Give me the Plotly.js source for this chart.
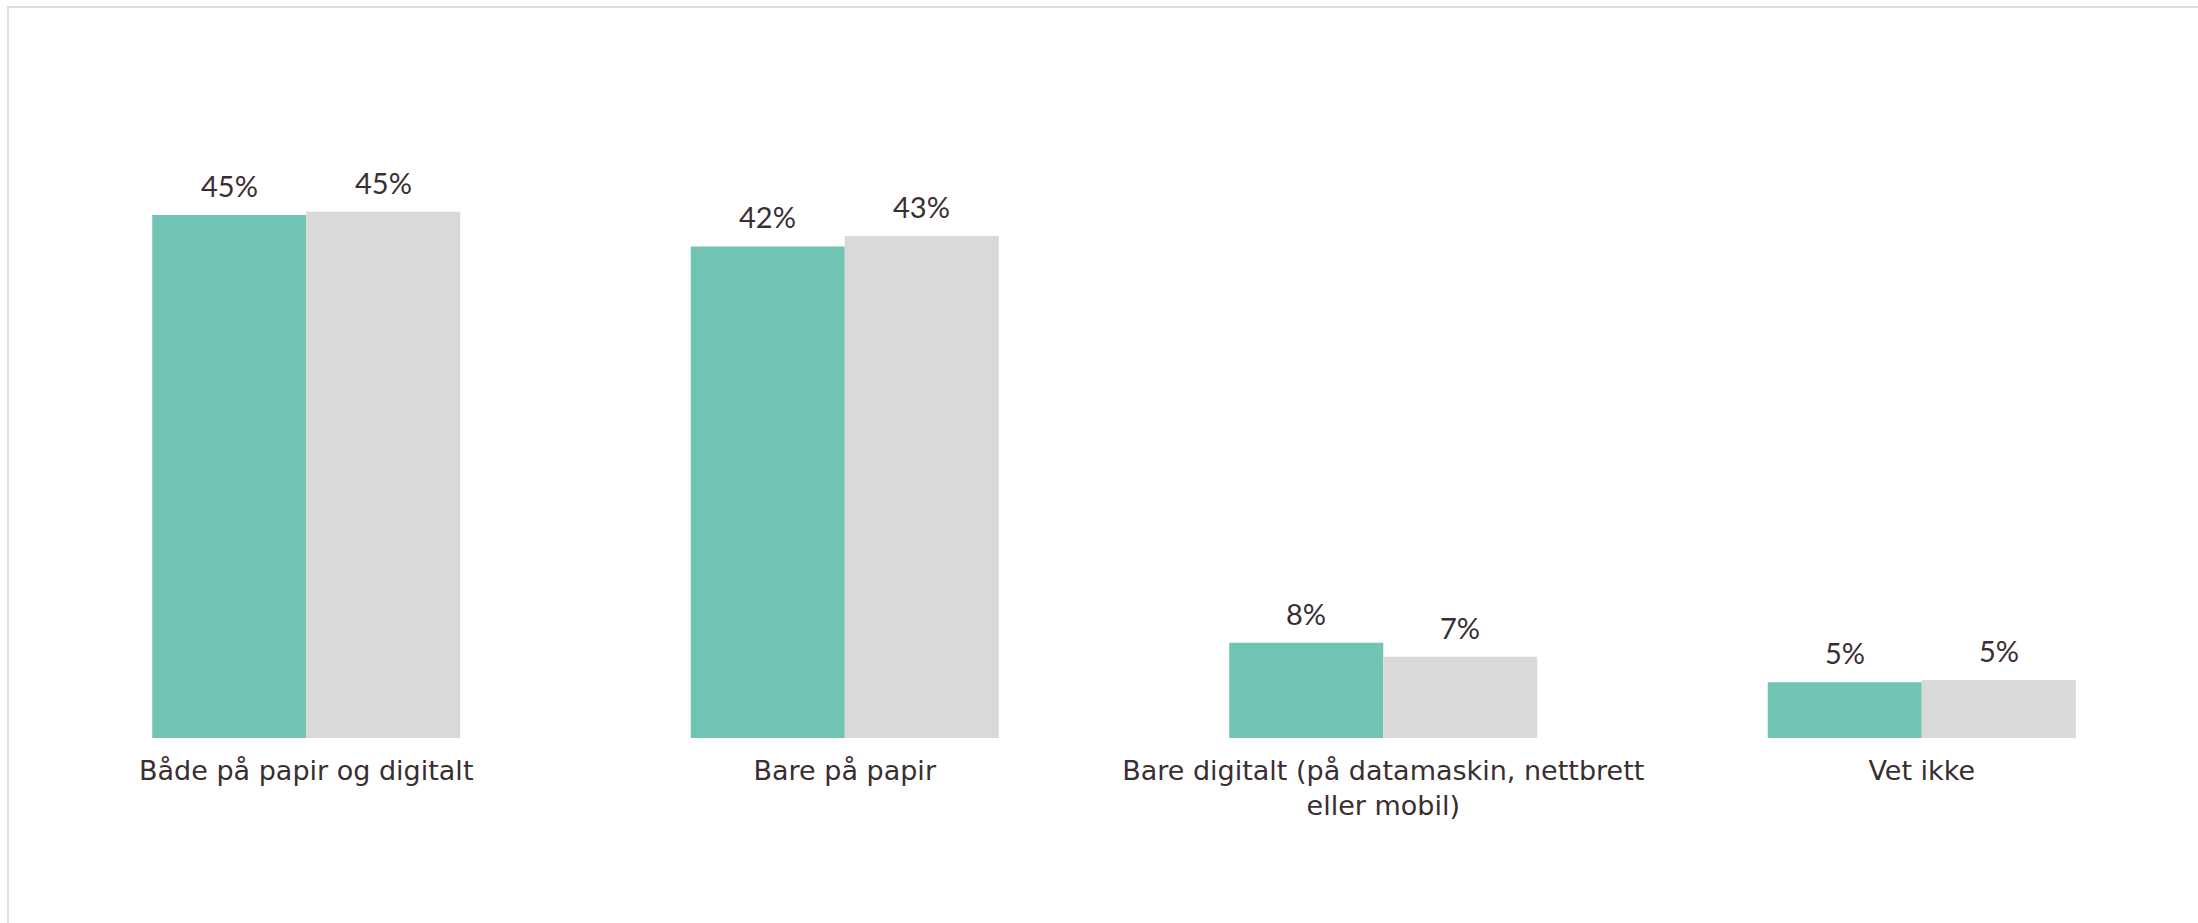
<!DOCTYPE html>
<html>
<head>
<meta charset="utf-8">
<script src="https://cdn.plot.ly/plotly-3.0.1.min.js"></script>
<style>
  html, body { margin: 0; padding: 0; background: #ffffff; }
  #frame { position: absolute; left: 7px; top: 6px; width: 2300px; height: 1000px;
           border-left: 2px solid #dedede; border-top: 2px solid #dedede; pointer-events: none; z-index: 5; }
  #chart { position: absolute; left: 0; top: 0; width: 2198px; height: 923px; }
</style>
</head>
<body>
<div id="chart"></div>
<div id="frame"></div>
<script>
const categories = [
  "Både på papir og digitalt",
  "Bare på papir",
  "Bare digitalt (på datamaskin, nettbrett<br>eller mobil)",
  "Vet ikke"
];
const seriesA = [45.0, 42.3, 8.2, 4.8];
const seriesB = [45.3, 43.2, 7.0, 5.0];
const labelsA = ["45%", "42%", "8%", "5%"];
const labelsB = ["45%", "43%", "7%", "5%"];

const colorA = "#71c3b4";
const colorB = "#d9d9d9";
const textColor = "#3a2e32";
const fontFamily = "Lato, 'Noto Sans', sans-serif";
const tickFamily = "'DejaVu Sans', sans-serif";

const bargap = 0.428;
const half = (1 - bargap) / 4;

const traces = [
  { type: "bar", x: categories, y: seriesA, marker: { color: colorA }, hoverinfo: "skip", showlegend: false },
  { type: "bar", x: categories, y: seriesB, marker: { color: colorB }, hoverinfo: "skip", showlegend: false }
];

const annotations = [];
[[seriesA, labelsA, -half], [seriesB, labelsB, half]].forEach(([vals, labs, off]) => {
  vals.forEach((v, i) => {
    annotations.push({
      x: i + off, y: v, xref: "x", yref: "y",
      text: labs[i], showarrow: false, yanchor: "bottom", yshift: 10,
      font: { family: fontFamily, size: 29, color: textColor }
    });
  });
});

const layout = {
  width: 2198, height: 923,
  margin: { l: 37, r: 7, t: 60, b: 185 },
  paper_bgcolor: "#ffffff", plot_bgcolor: "#ffffff",
  barmode: "group", bargap: bargap, bargroupgap: 0,
  xaxis: {
    type: "category", range: [-0.5, 3.5], showgrid: false, zeroline: false, showline: false,
    ticks: "", ticklabelstandoff: 14,
    tickfont: { family: tickFamily, size: 27, color: textColor }
  },
  yaxis: { range: [0, 58.35], visible: false, showgrid: false, zeroline: false },
  annotations: annotations,
  font: { family: fontFamily, color: textColor }
};

Plotly.newPlot("chart", traces, layout, { displayModeBar: false, staticPlot: true });
</script>
</body>
</html>
